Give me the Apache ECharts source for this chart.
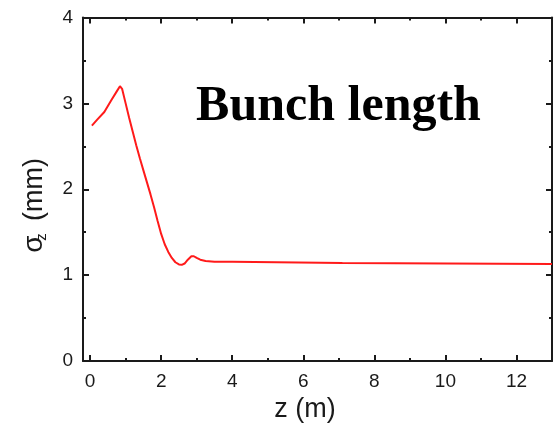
<!DOCTYPE html>
<html><head><meta charset="utf-8">
<script src="https://cdn.jsdelivr.net/npm/echarts@6/dist/echarts.min.js"></script>
<style>html,body{margin:0;padding:0;background:#fff}#c{width:557px;height:424px}</style>
</head><body><div id="c"></div>
<script>
var zValues = [0.05,0.2,0.4,0.6,0.75,0.84,0.9,1.0,1.1,1.2,1.3,1.4,1.5,1.6,1.7,1.8,1.9,2.0,2.1,2.2,2.3,2.4,2.5,2.58,2.66,2.75,2.85,2.92,3.0,3.1,3.25,3.5,4.0,4.05,7.1,7.15,13];
var sigmaValues = [2.74,2.81,2.90,3.04,3.14,3.20,3.17,3.00,2.83,2.67,2.51,2.36,2.22,2.08,1.94,1.79,1.63,1.48,1.36,1.27,1.20,1.15,1.125,1.12,1.135,1.18,1.22,1.22,1.20,1.18,1.165,1.155,1.155,1.145,1.14,1.13,1.13];
var xMajorTicks = [0,2,4,6,8,10,12];
var xMinorTicks = [1,3,5,7,9,11];
var yMajorTicks = [0,1,2,3,4];
var yMinorTicks = [0.5,1.5,2.5,3.5];

var FONT = 'Liberation Sans, Arial, sans-serif';
var AX = '#1a1a1a';
var chart = echarts.init(document.getElementById('c'), null, {renderer:'canvas'});
var data = zValues.map(function(z,i){return [z, sigmaValues[i]];});

function xAx(pos, ticks, len, showLine, showLabel){
  return {
    type:'value', position:pos, min:-0.2, max:13, gridIndex:0,
    axisLine:{show:showLine, onZero:false, lineStyle:{color:AX, width:2}},
    axisTick:{show:true, inside:true, length:len, customValues:ticks, lineStyle:{color:AX, width:2}},
    axisLabel:{show:showLabel, customValues:xMajorTicks, fontFamily:FONT, fontSize:19, color:AX, margin:11},
    splitLine:{show:false}
  };
}
function yAx(pos, ticks, len, showLine, showLabel){
  return {
    type:'value', position:pos, min:0, max:4, gridIndex:0,
    axisLine:{show:showLine, onZero:false, lineStyle:{color:AX, width:2}},
    axisTick:{show:true, inside:true, length:len, customValues:ticks, lineStyle:{color:AX, width:2}},
    axisLabel:{show:showLabel, customValues:yMajorTicks, fontFamily:FONT, fontSize:19, color:AX, margin:10},
    splitLine:{show:false}
  };
}

chart.setOption({
  animation:false,
  backgroundColor:'#fff',
  grid:{left:83, right:5, top:17.5, bottom:63, containLabel:false, outerBoundsMode:'none'},
  xAxis:[
    xAx('bottom', xMajorTicks, 6, true, true),
    xAx('bottom', xMinorTicks, 3, false, false),
    xAx('top', xMajorTicks, 6, true, false),
    xAx('top', xMinorTicks, 3, false, false)
  ],
  yAxis:[
    yAx('left', yMajorTicks, 6, true, true),
    yAx('left', yMinorTicks, 3, false, false),
    yAx('right', yMajorTicks, 6, true, false),
    yAx('right', yMinorTicks, 3, false, false)
  ],
  series:[{
    type:'line', data:data, xAxisIndex:0, yAxisIndex:0,
    showSymbol:false, symbol:'none', smooth:false,
    lineStyle:{color:'#ff1a1a', width:2}
  }],
  graphic:[
    {type:'text', x:338.5, y:107, style:{text:'Bunch length', fontFamily:'Liberation Serif, Times New Roman, serif', fontWeight:'bold', fontSize:50, fill:'#000', align:'center', verticalAlign:'middle'}},
    {type:'text', x:305, y:409.5, style:{text:'z (m)', fontFamily:FONT, fontSize:27, fill:AX, align:'center', verticalAlign:'middle'}},
    {type:'text', x:34, y:244, rotation:Math.PI/2, style:{text:'σ', fontFamily:FONT, fontSize:28, fill:AX, align:'center', verticalAlign:'middle'}},
    {type:'text', x:42, y:237, rotation:Math.PI/2, style:{text:'z', fontFamily:FONT, fontSize:15, fill:AX, align:'center', verticalAlign:'middle'}},
    {type:'text', x:35, y:189.5, rotation:Math.PI/2, style:{text:'(mm)', fontFamily:FONT, fontSize:27, fill:AX, align:'center', verticalAlign:'middle'}}
  ]
});
</script></body></html>
